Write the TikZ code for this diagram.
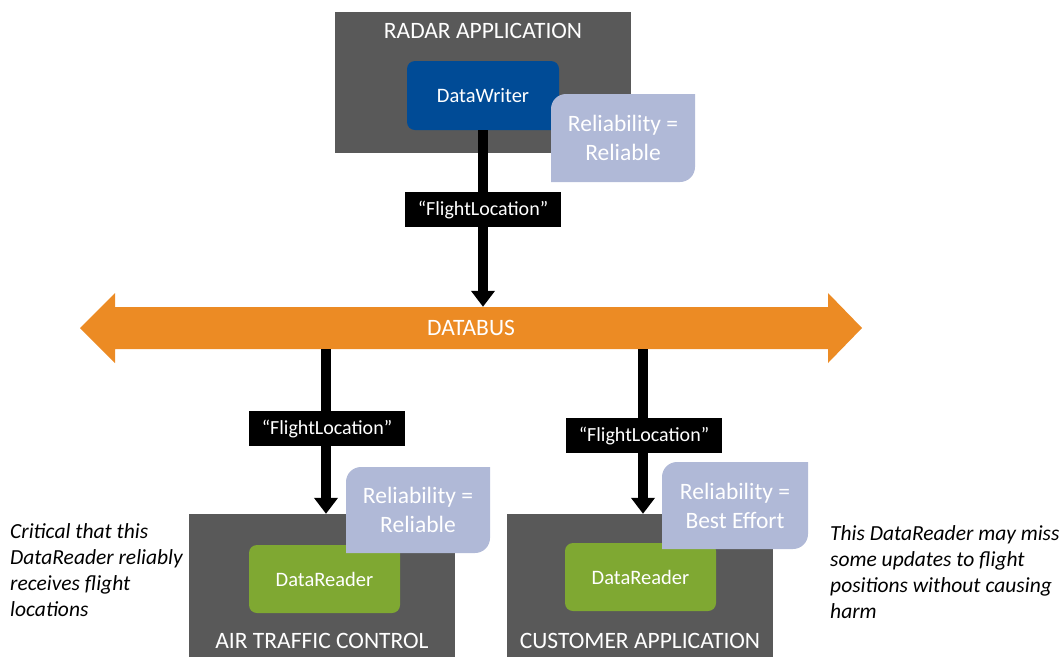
\documentclass[tikz,border=0pt]{standalone}
\usepackage{fontspec}
\setmainfont{Carlito}
\usetikzlibrary{arrows.meta}
\definecolor{appgray}{RGB}{89,89,89}
\definecolor{writerblue}{RGB}{0,75,150}
\definecolor{readergreen}{RGB}{127,168,50}
\definecolor{qoslav}{RGB}{176,185,215}
\definecolor{busorange}{RGB}{236,139,36}

\begin{document}
\begin{tikzpicture}[x=1pt,y=-1pt,app/.style={fill=appgray,inner sep=0pt},apptitle/.style={text=white,inner sep=0pt,font=\fontsize{23.5}{28}\selectfont},endpoint/.style={rounded corners=8pt,inner sep=0pt,text=white,font=\fontsize{20.5}{24}\selectfont},qos/.style={inner sep=0pt,align=center,text=white,font=\fontsize{23.5}{29}\selectfont,path picture={\fill[qoslav] ([yshift=-15pt]path picture bounding box.north west) arc[start angle=180,end angle=90,radius=15pt] -- (path picture bounding box.north east) -- ([yshift=15pt]path picture bounding box.south east) arc[start angle=0,end angle=-90,radius=15pt] -- (path picture bounding box.south west) -- cycle;}},topic/.style={fill=black,text=white,inner xsep=13pt,inner ysep=0pt,minimum height=35pt,font=\fontsize{20}{24}\selectfont},flow/.style={line width=10pt,-{Triangle[width=23pt,length=16pt]}},note/.style={anchor=north west,align=left,inner sep=0pt,font=\itshape\fontsize{21.5}{26}\selectfont}]
\useasboundingbox (0,0) rectangle (1060,657);
\node[app,minimum width=296pt,minimum height=141pt] (radar) at (483,82.5) {};
\node[apptitle] (radarlbl) at (483,31) {RADAR APPLICATION};
\node[app,minimum width=266pt,minimum height=143pt] (atc) at (322,585.5) {};
\node[apptitle] (atclbl) at (322,641) {AIR TRAFFIC CONTROL};
\node[app,minimum width=266pt,minimum height=143pt] (cust) at (640,585.5) {};
\node[apptitle] (custlbl) at (640,641) {CUSTOMER APPLICATION};
\coordinate (busW) at (80,328);
\coordinate (busE) at (862,328);
\fill[busorange] (busW) -- (115,293) -- (115,307) -- (828,307) -- (828,293) -- (busE) -- (828,363) -- (828,349) -- (115,349) -- (115,363) -- cycle;
\node[text=white,inner sep=0pt,minimum height=42pt,font=\fontsize{23.5}{26}\selectfont] (bus) at (471,328) {DATABUS};
\node[endpoint,fill=writerblue,minimum width=152pt,minimum height=69pt] (writer) at (483,95.5) {DataWriter};
\node[endpoint,fill=readergreen,minimum width=151pt,minimum height=68pt] (atcreader) at (324.5,579) {DataReader};
\node[endpoint,fill=readergreen,minimum width=151pt,minimum height=68pt] (custreader) at (640.5,577) {DataReader};
\coordinate (atcdrop) at (326,349);
\coordinate (custdrop) at (643,349);
\draw[flow] (writer.south) -- (writer.south |- bus.north);
\draw[flow] (atcdrop) -- (atcdrop |- atc.north);
\draw[flow] (custdrop) -- (custdrop |- cust.north);
\node[qos,minimum width=144pt,minimum height=88pt] (writerqos) at (623,138) {Reliability =\\Reliable};
\node[qos,minimum width=144pt,minimum height=86pt] (atcqos) at (418,510) {Reliability =\\Reliable};
\node[qos,minimum width=146pt,minimum height=87pt] (custqos) at (735,505.5) {Reliability =\\Best Effort};
\node[topic] (writertopic) at (writer.south |- 0,209.5) {“FlightLocation”};
\node[topic] (atctopic) at (327,428.5) {“FlightLocation”};
\node[topic] (custtopic) at (644,435.5) {“FlightLocation”};
\node[note] (atcnote) at (10,523) {Critical that this\\DataReader reliably\\receives flight\\locations};
\node[note] (custnote) at (830,525) {This DataReader may miss\\some updates to flight\\positions without causing\\harm};
\end{tikzpicture}
\end{document}
